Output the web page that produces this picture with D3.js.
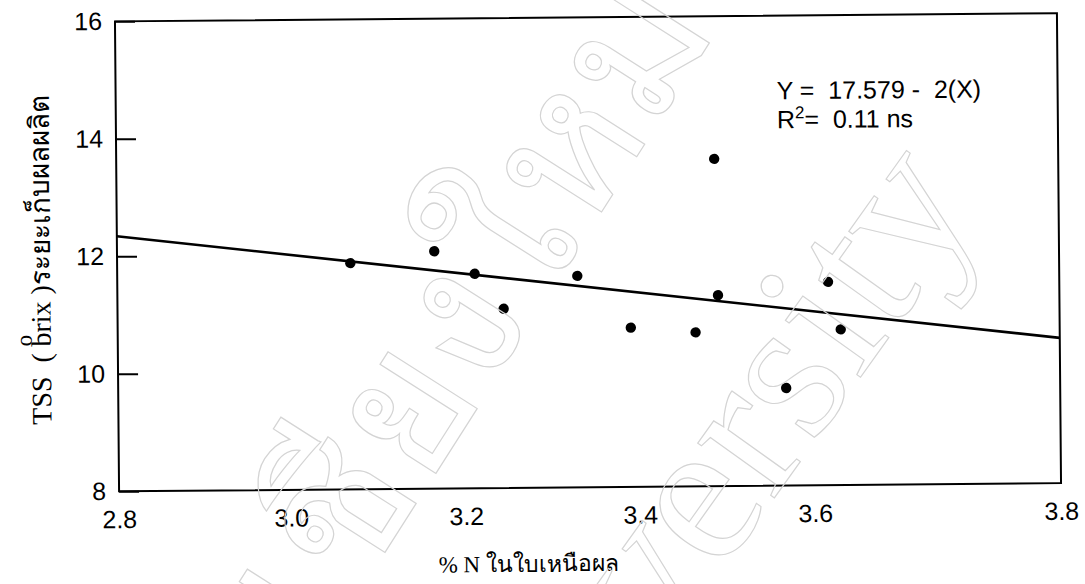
<!DOCTYPE html>
<html>
<head>
<meta charset="utf-8">
<script src="https://cdn.jsdelivr.net/npm/d3@7"></script>
<style>
  body { margin: 0; background: #fff; }
  svg { display: block; }
</style>
</head>
<body>
<svg id="chart" width="1085" height="584"></svg>
<script>
// Leaf nitrogen (% N) against total soluble solids at harvest (°brix)
const nitrogen = [3.070, 3.166, 3.212, 3.245, 3.330, 3.391, 3.465, 3.488, 3.491, 3.568, 3.612, 3.622];
const tss      = [11.85, 12.04, 11.65, 11.05, 11.60, 10.71, 10.62, 13.57, 11.25, 9.66, 11.46, 10.65];

const xTicks = [2.8, 3.0, 3.2, 3.4, 3.6, 3.8];
const yTicks = [8, 10, 12, 14, 16];

// Fitted regression
const intercept = 17.579;
const slope = -1.87;
const rSquared = 0.11;
const significance = "ns";

const xTitle = "% N ในใบเหนือผล";
const yTitleParts = ["TSS  ( ", "o", "brix )ระยะเก็บผลผลิต"];

// ---- layout ----
const svg = d3.select("#chart");
const margin = { left: 117, top: 17.25 };
const width = 942, height = 470;
const tilt = -0.5; // the printed page sits slightly askew

const root = svg.append("g")
  .attr("transform", `rotate(${tilt}, ${margin.left + width / 2}, ${margin.top + height / 2})`);

const g = root.append("g").attr("transform", `translate(${margin.left},${margin.top})`);

const x = d3.scaleLinear().domain(xTicks).range([0, 172, 347, 521, 696, width]);
const y = d3.scaleLinear().domain([8, 16]).range([height, 0]);

const sans = "'Liberation Sans', Arial, Helvetica, sans-serif";
const serif = "'Liberation Serif', 'Times New Roman', serif";

// faint watermark outlines behind the plot
const wm = root.append("g").attr("fill", "none").attr("stroke", "#d4d4d4").attr("stroke-width", 1.2)
  .style("font-family", serif);
wm.append("text")
  .attr("transform", "translate(984,208) rotate(-54)")
  .attr("text-anchor", "end")
  .style("font-size", "205px")
  .text("University");
wm.append("text")
  .attr("transform", "translate(318,650) rotate(-57)")
  .style("font-size", "190px")
  .text("เชียงใหม่");

// frame
g.append("rect")
  .attr("x", 0).attr("y", 0).attr("width", width).attr("height", height)
  .attr("fill", "none").attr("stroke", "#000").attr("stroke-width", 2);

// y axis with inward ticks
const yAxis = g.append("g")
  .call(d3.axisLeft(y).tickValues(yTicks).tickSizeInner(-20).tickSizeOuter(0).tickPadding(13)
    .tickFormat(d3.format("d")));
yAxis.select(".domain").remove();
yAxis.selectAll(".tick line").attr("stroke", "#000").attr("stroke-width", 2);
yAxis.selectAll(".tick text").style("font-family", sans).style("font-size", "25px").attr("fill", "#000");

// x axis: labels only
const xAxis = g.append("g").attr("transform", `translate(0,${height})`)
  .call(d3.axisBottom(x).tickValues(xTicks).tickSize(0).tickPadding(19).tickFormat(d3.format(".1f")));
xAxis.select(".domain").remove();
xAxis.selectAll(".tick text").style("font-family", sans).style("font-size", "25px").attr("fill", "#000");

// regression line
const fit = d => intercept + slope * d;
const ends = d3.extent(x.domain());
g.append("path")
  .datum(ends)
  .attr("fill", "none").attr("stroke", "#000").attr("stroke-width", 2.6)
  .attr("d", d3.line().x(d => x(d)).y(d => y(fit(d))));

// observations
g.append("g").selectAll("circle")
  .data(d3.zip(nitrogen, tss))
  .join("circle")
  .attr("cx", d => x(d[0])).attr("cy", d => y(d[1]))
  .attr("r", 5.2).attr("fill", "#000");

// equation
const eq = g.append("g").style("font-family", sans).style("font-size", "25px").attr("fill", "#000");
eq.append("text")
  .attr("x", 661).attr("y", 83.7)
  .style("white-space", "pre")
  .text(`Y =  ${intercept} -  ${Math.abs(Math.round(slope))}(X)`);
const r2 = eq.append("text").attr("x", 661).attr("y", 112.7).style("white-space", "pre");
r2.append("tspan").text("R");
r2.append("tspan").attr("dy", -10).style("font-size", "17px").text("2");
r2.append("tspan").attr("dy", 10).text(`=  ${rSquared} ${significance}`);

// axis titles
g.append("text")
  .attr("x", x(3.2) + 62).attr("y", height + 84)
  .attr("text-anchor", "middle")
  .style("font-family", serif).style("font-size", "23px").attr("fill", "#000")
  .text(xTitle);

const yt = g.append("text")
  .attr("transform", `translate(${-67},${height / 2 + 3}) rotate(-90)`)
  .attr("text-anchor", "middle")
  .style("font-family", serif).style("font-size", "28px").attr("fill", "#000")
  .style("white-space", "pre");
yt.append("tspan").text(yTitleParts[0]);
yt.append("tspan").attr("dy", -19).style("font-size", "23px").text(yTitleParts[1]);
yt.append("tspan").attr("dx", -12).attr("dy", 19).text(yTitleParts[2]);
</script>
</body>
</html>
